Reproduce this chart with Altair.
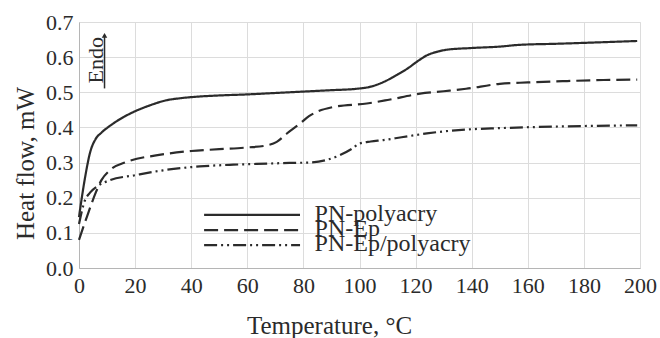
import altair as alt
import pandas as pd

# ---- data ----
series_names = ["PN-polyacry", "PN-Ep", "PN-Ep/polyacry"]

poly_t = [0, 2, 4, 6, 8, 12, 16, 20, 25, 31, 36, 43, 50, 60, 70, 80, 90, 99, 104, 108.5, 113, 117, 121, 124, 128, 131, 140, 150, 157, 170, 185, 199]
poly_v = [0.145, 0.25, 0.33, 0.368, 0.385, 0.41, 0.43, 0.446, 0.462, 0.477, 0.483, 0.488, 0.491, 0.494, 0.498, 0.502, 0.506, 0.510, 0.516, 0.529, 0.548, 0.567, 0.59, 0.605, 0.616, 0.621, 0.626, 0.63, 0.635, 0.638, 0.642, 0.646]

ep_t = [0, 3, 6, 8, 11, 17, 28, 40, 50, 60, 67, 70.5, 74, 78.8, 82, 84.7, 90.6, 102.6, 110, 121.6, 130, 138, 150, 160, 174, 187, 199]
ep_v = [0.08, 0.15, 0.215, 0.25, 0.278, 0.302, 0.321, 0.333, 0.338, 0.343, 0.349, 0.359, 0.382, 0.411, 0.432, 0.444, 0.458, 0.468, 0.478, 0.496, 0.503, 0.510, 0.524, 0.528, 0.532, 0.535, 0.536]

epp_t = [0, 2, 4, 7, 11, 20, 30, 43, 55, 67, 75, 82, 88, 93, 97, 100, 104, 108.5, 115, 124, 138, 150, 162, 180, 199]
epp_v = [0.125, 0.19, 0.215, 0.235, 0.25, 0.264, 0.278, 0.289, 0.294, 0.297, 0.299, 0.300, 0.307, 0.321, 0.338, 0.354, 0.360, 0.364, 0.372, 0.383, 0.394, 0.398, 0.401, 0.404, 0.406]

x_ticks = list(range(0, 201, 20))
y_ticks = [0.0, 0.1, 0.2, 0.3, 0.4, 0.5, 0.6, 0.7]

# legend entries (inside plot, in data coordinates)
leg_x1, leg_x2, leg_label_x = 44.6, 78.8, 84.0
leg_y = [0.151, 0.108, 0.065]

# "Endo" annotation
endo_x, endo_y = 8.5, 0.591
arrow_x, arrow_y1, arrow_y2 = 9.1, 0.511, 0.662

FONT = "Liberation Serif"
INK = "#2b2b2b"

rows = []
for name, ts, vs in [(series_names[0], poly_t, poly_v), (series_names[1], ep_t, ep_v), (series_names[2], epp_t, epp_v)]:
    for t, v in zip(ts, vs):
        rows.append({"series": name, "T": t, "HF": v})
df = pd.DataFrame(rows)

dash_scale = alt.Scale(domain=series_names, range=[[1, 0], [14, 6], [13, 4, 2, 4, 2, 4]])

xs = alt.Scale(domain=[0, 200], nice=False)
ys = alt.Scale(domain=[0, 0.7], nice=False)

x_axis = alt.Axis(values=x_ticks, title="Temperature, °C", ticks=False, labelPadding=7,
                  labelFlush=False, labelOverlap=False,
                  titleX=250, titleY=65, titleBaseline="alphabetic", titleAlign="center",
                  gridColor="#dcdcdc", domainColor="#b5b5b5")
y_axis = alt.Axis(values=y_ticks, format=".1f", title="Heat flow, mW", ticks=False, labelPadding=6,
                  labelFlush=False, labelOverlap=False,
                  titleX=-46, titleY=141, titleAngle=270, titleBaseline="alphabetic", titleAlign="center",
                  gridColor="#dcdcdc", domainColor="#b5b5b5")


def X(field):
    return alt.X(field, scale=xs, axis=x_axis)


def Y(field):
    return alt.Y(field, scale=ys, axis=y_axis)


lines = alt.Chart(df).mark_line(strokeWidth=2.2, color=INK, interpolate="monotone").encode(
    x=X("T:Q"),
    y=Y("HF:Q"),
    strokeDash=alt.StrokeDash("series:N", scale=dash_scale, legend=None),
    detail="series:N",
)

leg_df = pd.DataFrame({"series": series_names, "x1": [leg_x1] * 3, "x2": [leg_x2] * 3,
                       "lx": [leg_label_x] * 3, "y": leg_y})
leg_rules = alt.Chart(leg_df).mark_rule(strokeWidth=2.2, color=INK).encode(
    x=X("x1:Q"), x2="x2:Q", y=Y("y:Q"),
    strokeDash=alt.StrokeDash("series:N", scale=dash_scale, legend=None),
)
leg_text = alt.Chart(leg_df).mark_text(align="left", baseline="middle", font=FONT, fontSize=24,
                                       color=INK, dy=-1).encode(
    x=X("lx:Q"), y=Y("y:Q"), text="series:N"
)

endo_df = pd.DataFrame({"x": [endo_x], "y": [endo_y], "t": ["Endo"]})
endo_text = alt.Chart(endo_df).mark_text(angle=270, align="center", baseline="alphabetic",
                                         font=FONT, fontSize=22, color=INK).encode(
    x=X("x:Q"), y=Y("y:Q"), text="t:N"
)
arrow_df = pd.DataFrame({"x": [arrow_x], "y1": [arrow_y1], "y2": [arrow_y2]})
arrow_line = alt.Chart(arrow_df).mark_rule(strokeWidth=1.5, color=INK).encode(
    x=X("x:Q"), y=Y("y1:Q"), y2="y2:Q"
)
arrow_head = alt.Chart(arrow_df).mark_point(shape="triangle-up", filled=True, size=30, color=INK,
                                            opacity=1).encode(
    x=X("x:Q"), y=Y("y2:Q")
)

chart = alt.layer(lines, leg_rules, leg_text, endo_text, arrow_line, arrow_head).properties(
    width=561, height=246,
    autosize=alt.AutoSizeParams(type="none"),
    padding={"left": 79, "top": 22, "right": 20, "bottom": 70},
    background="white",
).configure_axis(
    labelFont=FONT, titleFont=FONT, labelFontSize=22, titleFontSize=25,
    labelColor=INK, titleColor=INK, titleFontWeight="normal",
).configure_view(stroke="#dcdcdc")

chart.save("out.html", embed_options={"renderer": "svg", "actions": False})
